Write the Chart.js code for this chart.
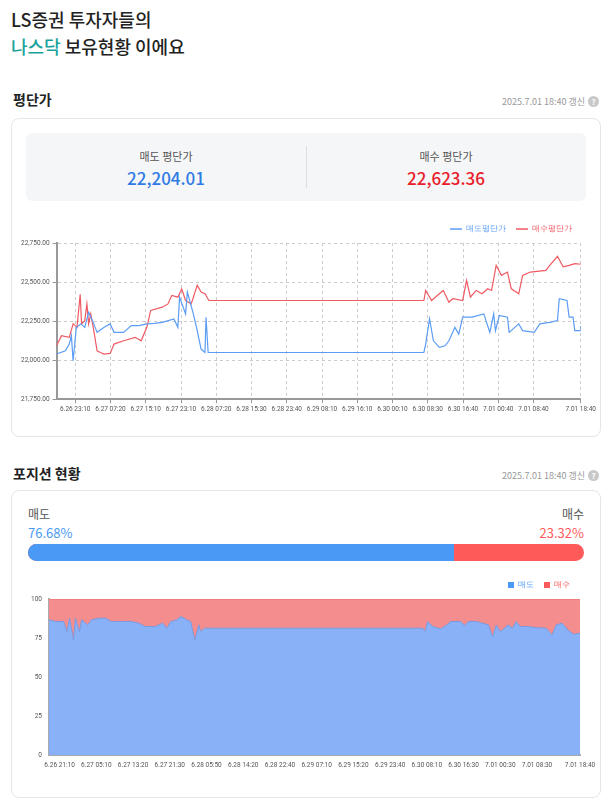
<!DOCTYPE html>
<html><head><meta charset="utf-8">
<script src="https://cdn.jsdelivr.net/npm/chart.js@4.4.1/dist/chart.umd.min.js"></script>
<style>
body{margin:0;background:#fff;font-family:"Noto Sans CJK KR","Noto Sans",sans-serif;color:#222;width:613px}
.title{position:absolute;left:11px;top:6px;font-size:18px;line-height:27px;font-weight:500}
.title .g{color:#1aa39a}
.sec{position:absolute;left:13px;font-size:14px;font-weight:700}
.upd{position:absolute;right:14px;font-size:9px;color:#999}
.upd b{display:inline-block;width:11px;height:11px;border-radius:6px;background:#c8c8c8;color:#fff;font-size:8px;text-align:center;line-height:11px;margin-left:3px}
.card{position:absolute;left:11px;width:588px;border:1px solid #e6e6e6;border-radius:8px;background:#fff}
.box{position:absolute;left:14px;top:14px;width:560px;height:68px;background:#f5f6f8;border-radius:6px}
.half{position:absolute;top:0;width:280px;height:68px;text-align:center}
.half .l{margin-top:15px;font-size:11px;color:#555}
.half .v{font-size:17px;margin-top:1px;font-weight:500}
.div{position:absolute;left:280px;top:13px;height:42px;border-left:1px solid #ddd}
</style></head><body>
<div class="title">LS증권 투자자들의<br><span class="g">나스닥</span> 보유현황 이에요</div>
<div class="sec" style="top:89px">평단가</div>
<div class="upd" style="top:95px">2025.7.01 18:40 갱신<b>?</b></div>
<div class="card" style="top:118px;height:317px">
  <div class="box">
    <div class="half" style="left:0"><div class="l">매도 평단가</div><div class="v" style="color:#2f7be5">22,204.01</div></div>
    <div class="div"></div>
    <div class="half" style="left:280px"><div class="l">매수 평단가</div><div class="v" style="color:#e8202a">22,623.36</div></div>
  </div>
  <div style="position:absolute;left:2px;top:96px;width:584px;height:200px"><canvas id="c1"></canvas></div>
</div>
<div class="sec" style="top:463px">포지션 현황</div>
<div class="upd" style="top:469px">2025.7.01 18:40 갱신<b>?</b></div>
<div class="card" style="top:490px;height:306px">
  <div style="position:absolute;left:16px;top:14px;font-size:12px;color:#555">매도</div>
  <div style="position:absolute;left:16px;top:32px;font-size:13px;color:#4a9af5">76.68%</div>
  <div style="position:absolute;right:16px;top:14px;font-size:12px;color:#555">매수</div>
  <div style="position:absolute;right:16px;top:32px;font-size:13px;color:#ff5a5a">23.32%</div>
  <div style="position:absolute;left:16px;top:53px;width:556px;height:17px;border-radius:9px;overflow:hidden;background:#ff5a5a">
    <div style="width:76.68%;height:100%;background:#4a9af5"></div></div>
  <div style="position:absolute;left:2px;top:80px;width:584px;height:200px"><canvas id="c2"></canvas></div>
</div>
<script>
// chart 1: x in tick-spacing units from plot left
const tickPos1 = [0.53,1.53,2.53,3.53,4.53,5.53,6.53,7.53,8.53,9.53,10.53,11.53,12.53,13.53,14.87];
const tickLbl1 = ['6.26 23:10','6.27 07:20','6.27 15:10','6.27 23:10','6.28 07:20','6.28 15:30','6.28 23:40','6.29 08:10','6.29 16:10','6.30 00:10','6.30 08:30','6.30 16:40','7.01 00:40','7.01 08:40','7.01 18:40'];
const buyX = [0,.14,.36,.47,.58,.67,.71,.80,.86,.91,.97,1.04,1.15,1.24,1.35,1.52,1.63,1.90,2.23,2.40,2.56,2.67,3.00,3.16,3.27,3.44,3.55,3.66,3.82,3.99,4.10,4.21,4.32,10.42,10.47,10.64,10.80,10.97,11.13,11.24,11.52,11.63,11.74,11.90,12.07,12.23,12.34,12.47,12.62,12.79,12.90,13.11,13.22,13.44,13.88,13.99,14.21,14.37,14.54,14.70,14.87];
const buyY = [22092,22157,22146,22232,22210,22421,22232,22253,22360,22232,22296,22210,22060,22049,22039,22043,22103,22124,22146,22124,22210,22318,22339,22360,22414,22403,22457,22382,22360,22479,22436,22425,22382,22382,22446,22382,22414,22446,22371,22393,22382,22511,22403,22446,22425,22457,22446,22607,22543,22564,22457,22425,22543,22564,22575,22607,22665,22597,22607,22618,22614];
const sellX = [0,.25,.36,.42,.47,.56,.69,.80,.91,1.02,1.15,1.35,1.52,1.63,1.90,2.12,2.34,2.56,2.78,3.00,3.33,3.44,3.49,3.66,3.71,3.88,3.99,4.10,4.21,4.24,4.30,4.37,10.42,10.47,10.58,10.69,10.86,11.02,11.13,11.30,11.41,11.52,11.79,12.12,12.29,12.40,12.45,12.56,12.79,12.84,13.11,13.22,13.55,13.71,13.99,14.21,14.26,14.48,14.54,14.65,14.70,14.85,14.87];
const sellY = [22039,22060,22103,22157,21996,22210,22232,22210,22307,22253,22178,22210,22232,22178,22178,22221,22221,22232,22236,22242,22264,22210,22403,22296,22436,22296,22189,22071,22049,22275,22049,22049,22049,22103,22264,22124,22082,22092,22124,22210,22167,22275,22275,22296,22178,22296,22189,22286,22275,22178,22232,22189,22178,22232,22242,22253,22393,22382,22275,22275,22189,22189,22221];
// chart 2
const tickPos2 = [0.29,1.29,2.29,3.29,4.29,5.29,6.29,7.29,8.29,9.29,10.29,11.29,12.29,13.29,14.46];
const tickLbl2 = ['6.26 21:10','6.27 05:10','6.27 13:20','6.27 21:30','6.28 05:50','6.28 14:20','6.28 22:40','6.29 07:10','6.29 15:20','6.29 23:40','6.30 08:10','6.30 16:30','7.01 00:30','7.01 08:30','7.01 18:40'];
const posX = [0,.18,.40,.49,.56,.67,.72,.83,.89,1.05,1.16,1.37,1.54,1.70,2.02,2.24,2.45,2.62,2.89,3.10,3.21,3.32,3.48,3.59,3.75,3.86,3.97,4.08,4.13,4.24,10.18,10.24,10.31,10.45,10.67,10.83,10.94,11.21,11.32,11.43,11.64,11.97,12.08,12.18,12.29,12.51,12.62,12.72,12.83,13.05,13.26,13.54,13.70,13.81,13.97,14.13,14.29,14.46];
const sellPct = [86.7,85.6,85.6,79.1,87.7,73.8,87.7,79.1,86.7,83.4,86.7,87.7,87.7,85.6,85.6,85.6,84.5,82.4,82.4,84.5,81.3,85.6,86.7,88.8,86.7,85.6,73.8,83.4,79.1,81.3,81.3,79.1,85.6,82.4,80.9,83.4,85.6,85.6,83.0,85.6,85.6,83.4,75.9,83.4,79.1,83.4,81.3,85.6,82.4,82.4,81.7,81.3,77.0,83.4,84.5,80.2,77.4,78.1];
const buyPct = sellPct.map(v => 100 - v);

const tickFont = {family:'Roboto', size:6.5};
function xAxis(pos, lbl, max) {
  return { type:'linear', min:0, max:max,
    afterBuildTicks: a => { a.ticks = pos.map(v => ({value:v})); },
    ticks:{ autoSkip:false, maxRotation:0, color:'#555', font:tickFont, padding:2, callback:(v,i) => lbl[i] } };
}
const legendLabels = {
  boxWidth:12, boxHeight:0, font:{size:8},
  generateLabels: ch => ch.data.datasets.map((d,i) => ({text:d.label, fillStyle:d.borderColor, strokeStyle:d.borderColor, lineWidth:1, fontColor:d.borderColor, datasetIndex:i}))
};

new Chart(document.getElementById('c1'), {
  type:'line',
  data:{ datasets:[
    { label:'매도평단가', data:sellX.map((x,i)=>({x, y:sellY[i]})), borderColor:'#5b9cf4', borderWidth:1.2, pointRadius:0, tension:0 },
    { label:'매수평단가', data:buyX.map((x,i)=>({x, y:buyY[i]})), borderColor:'#ef5a63', borderWidth:1.2, pointRadius:0, tension:0 }
  ]},
  options:{ responsive:true, maintainAspectRatio:false, animation:false,
    layout:{padding:{right:16, left:4}},
    plugins:{ legend:{ align:'end', labels:legendLabels } },
    scales:{
      x: Object.assign(xAxis(tickPos1, tickLbl1, 14.87), {grid:{color:'#ccc', tickColor:'#999', tickLength:4}, border:{color:'#999', width:2, dash:[3,3]}}),
      y:{ min:21750, max:22750, ticks:{ stepSize:250, color:'#555', font:tickFont, callback:v => v.toLocaleString('en-US',{minimumFractionDigits:2}) },
        grid:{ color:'#ccc', tickLength:4, tickColor:'#999' }, border:{ color:'#999', width:2, dash:[3,3] } }
    } }
});

new Chart(document.getElementById('c2'), {
  type:'line',
  data:{ datasets:[
    { label:'매도', data:posX.map((x,i)=>({x, y:sellPct[i]})), borderColor:'#7c97dc', backgroundColor:'#88b1f7', fill:'origin', borderWidth:1, pointRadius:0, tension:0 },
    { label:'매수', data:posX.map((x,i)=>({x, y:buyPct[i]})), borderColor:'#f06c6c', backgroundColor:'#f48e8e', fill:'-1', borderWidth:1, pointRadius:0, tension:0 }
  ]},
  options:{ responsive:true, maintainAspectRatio:false, animation:false,
    layout:{padding:{right:18, left:14}},
    plugins:{ legend:{ align:'end', labels:{ boxWidth:6, boxHeight:6, font:{size:8},
      generateLabels: ch => ch.data.datasets.map((d,i) => ({text:d.label, fillStyle:i?'#ff5a5a':'#4a9af5', strokeStyle:i?'#ff5a5a':'#4a9af5', lineWidth:0, fontColor:i?'#ff5a5a':'#4a9af5', datasetIndex:i})) } } },
    scales:{
      x: Object.assign(xAxis(tickPos2, tickLbl2, 14.46), {grid:{display:false, drawTicks:true, tickLength:4, tickColor:'#999'}, border:{color:'#aaa', width:2}}),
      y:{ stacked:true, min:0, max:100, ticks:{ stepSize:25, color:'#555', font:tickFont },
        grid:{ display:false, drawTicks:true, tickLength:4, tickColor:'#999' }, border:{ color:'#aaa', width:2 } }
    } }
});
</script>
</body></html>
